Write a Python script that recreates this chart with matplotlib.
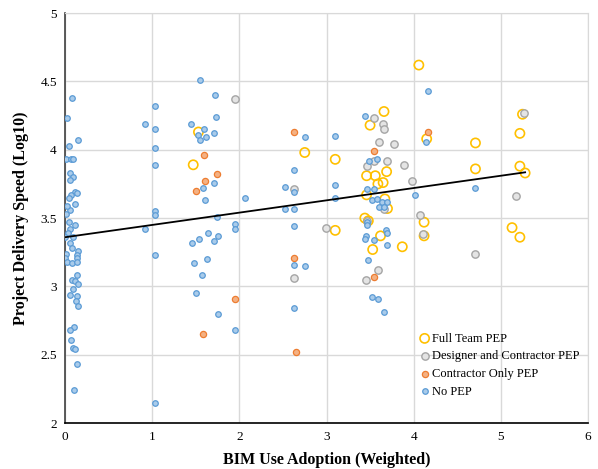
import matplotlib.pyplot as plt

plt.rcParams['font.family'] = ['Liberation Serif', 'DejaVu Serif']

# Full Team PEP
full_x = [1.47, 1.53, 2.75, 3.10, 3.10, 3.66, 3.50, 4.15, 3.69, 3.46, 3.56, 3.65, 3.59, 3.46,
          3.67, 3.70, 3.44, 3.48, 3.62, 3.53, 3.87, 4.12, 4.12, 4.06, 4.71, 4.71, 5.25, 5.22,
          5.22, 5.28, 5.13, 5.22]
full_y = [3.89, 4.13, 3.98, 3.93, 3.41, 4.28, 4.18, 4.08, 3.84, 3.81, 3.81, 3.76, 3.75, 3.67,
          3.64, 3.57, 3.50, 3.48, 3.37, 3.27, 3.29, 3.47, 3.37, 4.62, 4.05, 3.86, 4.26, 4.12,
          3.88, 3.83, 3.43, 3.36]

# Designer and Contractor PEP
dc_x = [1.95, 2.63, 2.63, 2.99, 3.55, 3.65, 3.66, 3.60, 3.78, 3.70, 3.89, 3.55, 3.46, 3.98,
        4.07, 3.66, 3.46, 3.59, 3.45, 4.11, 4.71, 5.27, 5.17]
dc_y = [4.37, 3.71, 3.06, 3.43, 4.23, 4.19, 4.15, 4.06, 4.04, 3.92, 3.89, 3.92, 3.88, 3.77,
        3.52, 3.57, 3.48, 3.12, 3.05, 3.38, 3.24, 4.27, 3.66]

# Contractor Only PEP
co_x = [1.59, 1.74, 1.61, 1.50, 1.95, 1.58, 2.63, 3.54, 4.17, 2.63, 2.65, 3.54]
co_y = [3.96, 3.82, 3.77, 3.70, 2.91, 2.65, 4.13, 3.99, 4.13, 3.21, 2.52, 3.07]

# No PEP
no_x = [0.08, 0.02, 0.15, 0.04, 0.01, 0.07, 0.09, 0.06, 0.09, 0.06, 0.11, 0.13, 0.07, 0.04,
        0.11, 0.06, 0.02, 0.01, 0.04, 0.11, 0.06, 0.03, 0.00, 0.09, 0.05, 0.08, 0.15, 0.01,
        0.14, 0.13, 0.00, 0.02, 0.08, 0.13, 0.13, 0.08, 0.11, 0.15, 0.09, 0.05, 0.13, 0.12,
        0.15, 0.10, 0.06, 0.07, 0.09, 0.11, 0.14, 0.10,
        1.55, 1.72, 1.03, 1.73, 0.92, 1.45, 1.03, 1.59, 1.71, 1.52, 1.62, 1.55, 1.03, 1.03,
        1.71, 1.58, 1.60, 2.07, 1.03, 1.03, 1.74, 0.92, 1.95, 1.95, 1.64, 1.75, 1.54, 1.71,
        1.46, 1.03, 1.63, 1.48, 1.57, 1.50, 1.75, 1.95, 1.03,
        2.75, 3.10, 2.63, 2.52, 2.63, 2.52, 2.63, 3.10, 3.10, 2.63, 2.63, 2.75, 2.63,
        3.44, 3.58, 3.49, 4.17, 4.14, 3.47, 3.55, 4.02, 3.52, 3.58, 3.64, 3.69, 3.60, 3.66,
        3.46, 3.46, 3.45, 3.44, 3.55, 3.68, 3.69, 3.70, 3.48, 3.52, 3.59, 3.66, 4.71]
no_y = [4.38, 4.23, 4.07, 4.03, 3.93, 3.93, 3.93, 3.83, 3.80, 3.78, 3.69, 3.68, 3.67, 3.65,
        3.60, 3.56, 3.59, 3.53, 3.47, 3.45, 3.42, 3.39, 3.36, 3.36, 3.32, 3.28, 3.26, 3.24,
        3.23, 3.21, 3.21, 3.18, 3.17, 3.18, 3.08, 3.05, 3.04, 3.02, 2.98, 2.94, 2.93, 2.89,
        2.86, 2.70, 2.68, 2.61, 2.55, 2.54, 2.43, 2.24,
        4.51, 4.40, 4.32, 4.24, 4.19, 4.19, 4.15, 4.15, 4.12, 4.11, 4.09, 4.07, 4.01, 3.89,
        3.76, 3.72, 3.63, 3.65, 3.55, 3.52, 3.51, 3.42, 3.46, 3.42, 3.39, 3.37, 3.35, 3.33,
        3.32, 3.23, 3.20, 3.17, 3.08, 2.95, 2.80, 2.68, 2.15,
        4.09, 4.10, 3.85, 3.73, 3.69, 3.57, 3.57, 3.74, 3.65, 3.44, 3.16, 3.15, 2.84,
        4.25, 3.93, 3.92, 4.43, 4.06, 3.71, 3.71, 3.67, 3.63, 3.64, 3.62, 3.62, 3.58, 3.58,
        3.47, 3.45, 3.37, 3.35, 3.34, 3.41, 3.39, 3.30, 3.19, 2.92, 2.91, 2.81, 3.72]

# linear trend line
trend_x = [0, 5.28]
trend_y = [3.36, 3.835]

fig = plt.figure(figsize=(5.98, 4.69), dpi=100)
ax = fig.add_axes([0.109, 0.098, 0.874, 0.874])

ax.scatter(full_x, full_y, s=44, facecolors='none', edgecolors='#FFC000', linewidths=1.2,
           label='Full Team PEP', zorder=3)
ax.scatter(dc_x, dc_y, s=28, facecolors='#E4E4E4', edgecolors='#A5A5A5', linewidths=1.0,
           label='Designer and Contractor PEP', zorder=4)
ax.scatter(co_x, co_y, s=20, facecolors='#F4B183', edgecolors='#ED7D31', linewidths=0.9,
           label='Contractor Only PEP', zorder=5)
ax.scatter(no_x, no_y, s=16, facecolors='#A9CBEA', edgecolors='#5B9BD5', linewidths=0.9,
           label='No PEP', zorder=6)
ax.plot(trend_x, trend_y, color='black', lw=1.3, zorder=7)

ax.set_xlim(0, 6)
ax.set_ylim(2, 5)
ax.set_xticks(range(0, 7))
ax.set_yticks([2, 2.5, 3, 3.5, 4, 4.5, 5])
ax.set_yticklabels(['2', '2.5', '3', '3.5', '4', '4.5', '5'])
ax.tick_params(length=0, labelsize=9.5, pad=6)
ax.grid(color='#D9D9D9', lw=1)
ax.set_axisbelow(True)
for s in ['top', 'right']:
    ax.spines[s].set_color('#D9D9D9')
ax.spines['left'].set_color('#404040')
ax.spines['bottom'].set_color('black')
ax.spines['left'].set_linewidth(1.2)
ax.spines['bottom'].set_linewidth(1.2)

ax.set_xlabel('BIM Use Adoption (Weighted)', fontsize=11.5, fontweight='bold', labelpad=6)
ax.set_ylabel('Project Delivery Speed (Log10)', fontsize=11.5, fontweight='bold', labelpad=8)

ax.legend(loc='lower left', bbox_to_anchor=(0.665, 0.05), frameon=False, fontsize=9,
          handletextpad=0.05, labelspacing=0.45, borderaxespad=0, handlelength=1.1)

fig.savefig('out.png', dpi=100)
